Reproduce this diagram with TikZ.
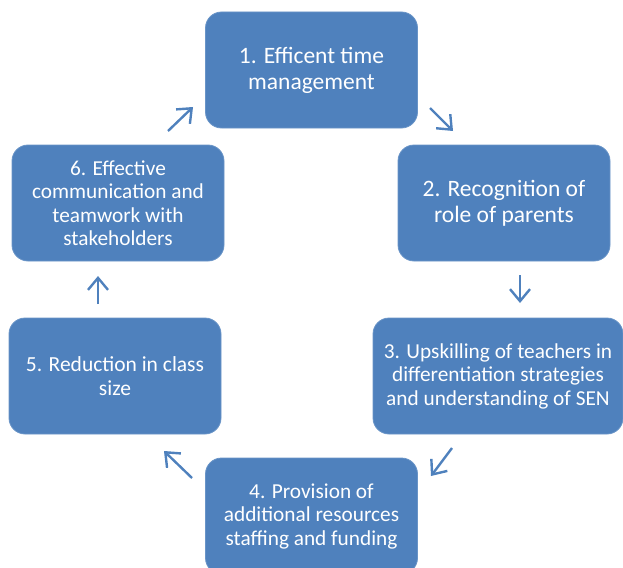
\documentclass[tikz,border=0pt]{standalone}
\usepackage{fontspec}
\setmainfont{Carlito}
\usetikzlibrary{arrows.meta}
\definecolor{boxblue}{HTML}{4F81BD}
\tikzset{
  stage/.style={fill=boxblue, draw=boxblue!85!white, line width=0.8pt, rounded corners=16pt,
    text=white, align=center, inner sep=0pt, minimum height=116pt},
  big/.style={font=\fontsize{23.5}{26}\selectfont},
  small/.style={font=\fontsize{21.3}{23.5}\selectfont},
  mid/.style={font=\fontsize{21.5}{24}\selectfont},
  flow/.style={draw=boxblue, line width=2.4pt, -{Straight Barb[length=12pt,width=20pt,line width=2.4pt]}}
}
\begin{document}
\begin{tikzpicture}[x=1pt,y=-1pt]
\useasboundingbox (0,0) rectangle (623,567);
\clip (0,0) rectangle (623,567);
\node[stage,big,minimum width=212pt] (b1) at (311.5,70) {1. Efficent time\\management};
\node[stage,big,minimum width=212pt] (b2) at (504,203) {2. Recognition of\\role of parents};
\node[stage,small,minimum width=250pt] (b3) at (498,376) {3. Upskilling of teachers in\\differentiation strategies\\and understanding of SEN};
\node[stage,small,minimum width=212pt] (b4) at (311.5,516) {4. Provision of\\additional resources\\staffing and funding};
\node[stage,mid,minimum width=212pt] (b5) at (115,376) {5. Reduction in class\\size};
\node[stage,small,minimum width=212pt] (b6) at (118,203) {6. Effective\\communication and\\teamwork with\\stakeholders};
\coordinate (a12s) at (430,108); \coordinate (a12e) at (453,131);
\coordinate (a23s) at (520,275); \coordinate (a23e) at (520,303);
\coordinate (a34s) at (452,448); \coordinate (a34e) at (431,476);
\coordinate (a45s) at (192,478); \coordinate (a45e) at (164,451);
\coordinate (a56s) at (98,304); \coordinate (a56e) at (98,276);
\coordinate (a61s) at (168,131); \coordinate (a61e) at (193,107);
\draw[flow] (a12s) -- (a12e);
\draw[flow] (a23s) -- (a23e);
\draw[flow] (a34s) -- (a34e);
\draw[flow] (a45s) -- (a45e);
\draw[flow] (a56s) -- (a56e);
\draw[flow] (a61s) -- (a61e);
\end{tikzpicture}
\end{document}
